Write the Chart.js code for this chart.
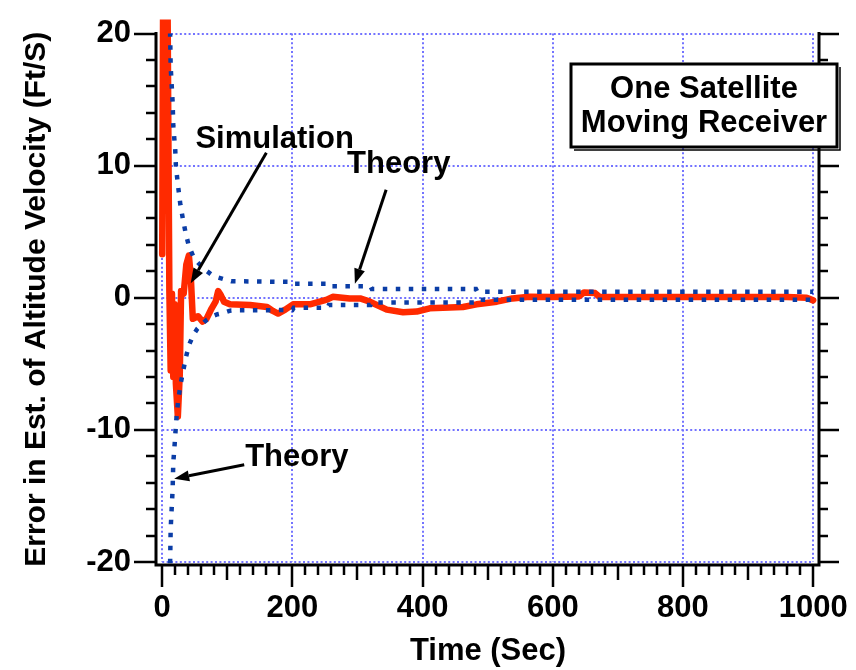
<!DOCTYPE html>
<html>
<head>
<meta charset="utf-8">
<script src="https://cdn.jsdelivr.net/npm/chart.js@4.4.1/dist/chart.umd.min.js"></script>
<style>
  html, body { margin: 0; padding: 0; background: #ffffff; }
  #wrap { width: 856px; height: 670px; }
</style>
</head>
<body>
<div id="wrap"><canvas id="c" width="856" height="670"></canvas></div>
<script>
// Simulated estimation error of altitude velocity (ft/s) versus time (s)
const simTime = [0, 1.5, 8, 11, 13, 15, 17, 19, 21, 24, 27, 29, 33, 37, 41, 44, 47, 55, 62, 68, 76,
  82, 86, 90, 95, 104, 135, 161, 170, 178, 189, 201, 227, 253, 262, 288, 304, 319, 345, 370, 391,
  411, 462, 483, 514, 538, 564, 600, 640, 648, 665, 672, 800, 960, 990, 1000];
const simError = [3.3, 24, 24, 0.5, -5.5, 0.3, -6, -0.5, -6.5, -9.0, -5.8, 0.5, 0.3, 2.5, 3.2, 1.5, -1.6, -1.4, -1.8, -1.6, -0.8,
  -0.3, 0.5, 0.2, -0.3, -0.5, -0.55, -0.7, -1.0, -1.2, -0.9, -0.5, -0.5, -0.15, 0.07, -0.05, -0.05, -0.3, -0.9, -1.1, -1.05,
  -0.8, -0.7, -0.5, -0.3, -0.05, 0.07, 0.05, 0.1, 0.4, 0.35, 0.05, 0.05, 0.05, 0.0, -0.2];

// Theoretical error bounds
const theoryTime = [10, 12, 13, 16, 17, 20, 21, 24, 28, 32, 36, 41, 48, 54, 61, 69, 77, 85, 94, 106,
  200, 202, 254, 256, 320, 322, 482, 484, 1000];
const theoryUpper = [26, 20.5, 17.5, 14.8, 13, 11.2, 10, 8.6, 7.0, 5.9, 4.9, 3.9, 3.1, 2.7, 2.35, 2.0, 1.7, 1.55, 1.42, 1.25,
  1.2, 1.06, 1.06, 0.86, 0.86, 0.66, 0.66, 0.46, 0.46];
const theoryLower = [-26, -20.5, -17.5, -14.5, -12.5, -10.5, -9.6, -8.0, -6.6, -5.6, -4.6, -3.6, -2.8, -2.35, -2.0, -1.65, -1.4, -1.25, -1.15, -0.96,
  -0.93, -0.76, -0.76, -0.55, -0.55, -0.36, -0.36, -0.16, -0.16];

// Axes
const xTickValues = [0, 200, 400, 600, 800, 1000];
const yTickValues = [-20, -10, 0, 10, 20];
const xTitle = 'Time (Sec)';
const yTitle = 'Error in Est. of Altitude Velocity (Ft/S)';
const boxLines = ['One Satellite', 'Moving Receiver'];

// Callouts, anchored in data units: label start, arrow tail and arrow tip
const callouts = [
  { text: 'Simulation', at: [51, 11.96], tail: [160, 10.98], tip: [43.8, 1.1] },
  { text: 'Theory', at: [284, 10.07], tail: [344, 8.18], tip: [296, 1.06] },
  { text: 'Theory', at: [127.4, -12.1], tail: [126, -12.64], tip: [18.4, -13.7] }
];

const FAMILY = '"Liberation Sans", Arial, Helvetica, sans-serif';
const boldFont = { family: FAMILY, size: 31, weight: 'bold' };
const titleFont = { family: FAMILY, size: 30, weight: 'bold' };
const canvasFont = 'bold 31px ' + FAMILY;

const toPoints = (xs, ys) => xs.map((x, i) => ({ x: x, y: ys[i] }));

function drawArrow(ctx, x1, y1, x2, y2) {
  const ang = Math.atan2(y2 - y1, x2 - x1);
  const L = 15, W = 5.5;
  const bx = x2 - L * Math.cos(ang), by = y2 - L * Math.sin(ang);
  ctx.beginPath();
  ctx.moveTo(x1, y1);
  ctx.lineTo(bx, by);
  ctx.stroke();
  ctx.beginPath();
  ctx.moveTo(x2, y2);
  ctx.lineTo(bx + W * Math.sin(ang), by - W * Math.cos(ang));
  ctx.lineTo(bx - W * Math.sin(ang), by + W * Math.cos(ang));
  ctx.closePath();
  ctx.fill();
}

const framePlugin = {
  id: 'frame',
  beforeDatasetsDraw(chart) {
    // dotted blue grid over the data box
    const { ctx, scales: { x, y } } = chart;
    ctx.save();
    ctx.strokeStyle = '#7373ff';
    ctx.lineWidth = 2;
    ctx.setLineDash([2, 2.4]);
    const yt = y.getPixelForValue(20), yb = y.getPixelForValue(-20);
    const xl = x.getPixelForValue(0), xr = x.getPixelForValue(1000);
    xTickValues.forEach(v => {
      const px = Math.round(x.getPixelForValue(v));
      ctx.beginPath(); ctx.moveTo(px, yt); ctx.lineTo(px, yb); ctx.stroke();
    });
    yTickValues.forEach(v => {
      const py = Math.round(y.getPixelForValue(v));
      ctx.beginPath(); ctx.moveTo(xl, py); ctx.lineTo(xr, py); ctx.stroke();
    });
    ctx.restore();
  },
  afterDatasetsDraw(chart) {
    // black axes with major and minor tick marks
    const { ctx, chartArea: a, scales: { x, y } } = chart;
    ctx.save();
    ctx.strokeStyle = '#000';
    ctx.lineWidth = 3;
    ctx.lineCap = 'butt';
    const left = a.left - 1, right = a.right, bottom = a.bottom;
    const top = y.getPixelForValue(20);
    ctx.beginPath();
    ctx.moveTo(left, top - 1.5); ctx.lineTo(left, bottom + 1.5);
    ctx.moveTo(left - 1.5, bottom); ctx.lineTo(right + 1.5, bottom);
    ctx.moveTo(right, top - 1.5); ctx.lineTo(right, bottom + 1.5);
    ctx.stroke();
    ctx.lineWidth = 2.5;
    ctx.beginPath();
    for (let v = -20; v <= 20; v += 2) {
      const py = Math.round(y.getPixelForValue(v));
      const major = v % 10 === 0;
      ctx.moveTo(left, py); ctx.lineTo(left - (major ? 22 : 10), py);
      ctx.moveTo(right, py); ctx.lineTo(right + (major ? 20 : 9), py);
    }
    for (let v = 0; v <= 1000; v += 20) {
      const px = Math.round(x.getPixelForValue(v));
      const len = v % 200 === 0 ? 22 : (v % 100 === 0 ? 15 : 10);
      ctx.moveTo(px, bottom); ctx.lineTo(px, bottom + len);
    }
    ctx.stroke();
    ctx.restore();
  },
  afterDraw(chart) {
    const { ctx, scales: { x, y } } = chart;
    ctx.save();
    // callout labels and arrows
    ctx.font = canvasFont;
    ctx.fillStyle = '#000';
    ctx.strokeStyle = '#000';
    ctx.lineWidth = 3;
    ctx.textBaseline = 'middle';
    ctx.textAlign = 'left';
    callouts.forEach(c => {
      ctx.fillText(c.text, x.getPixelForValue(c.at[0]), y.getPixelForValue(c.at[1]));
      drawArrow(ctx, x.getPixelForValue(c.tail[0]), y.getPixelForValue(c.tail[1]),
        x.getPixelForValue(c.tip[0]), y.getPixelForValue(c.tip[1]));
    });
    // framed title box
    const bx = 571, by = 64, bw = 266, bh = 83;
    ctx.fillStyle = '#fff';
    ctx.fillRect(bx, by, bw, bh);
    ctx.lineWidth = 3;
    ctx.strokeRect(bx, by, bw, bh);
    ctx.lineWidth = 1.5;
    ctx.beginPath();
    ctx.moveTo(bx + 3, by + bh + 3); ctx.lineTo(bx + bw + 3, by + bh + 3); ctx.lineTo(bx + bw + 3, by + 3);
    ctx.stroke();
    ctx.fillStyle = '#000';
    ctx.textAlign = 'center';
    ctx.fillText(boxLines[0], bx + bw / 2, by + 25);
    ctx.fillText(boxLines[1], bx + bw / 2, by + 59);
    ctx.restore();
  }
};

// Tick marks are drawn by the plugin; the library's tick length only spaces the labels
const hiddenTicks = (len) => ({
  display: true, drawOnChartArea: false, drawTicks: true,
  tickLength: len, tickColor: 'rgba(0,0,0,0)'
});

new Chart(document.getElementById('c'), {
  type: 'line',
  data: {
    datasets: [
      {
        label: 'Theory (upper)',
        data: toPoints(theoryTime, theoryUpper),
        borderColor: '#0b3da6',
        borderWidth: 4.5,
        borderDash: [4.5, 8.5],
        borderCapStyle: 'butt',
        pointRadius: 0,
        tension: 0,
        fill: false,
        order: 0
      },
      {
        label: 'Theory (lower)',
        data: toPoints(theoryTime, theoryLower),
        borderColor: '#0b3da6',
        borderWidth: 4.5,
        borderDash: [4.5, 8.5],
        borderCapStyle: 'butt',
        pointRadius: 0,
        tension: 0,
        fill: false,
        order: 0
      },
      {
        label: 'Simulation',
        data: toPoints(simTime, simError),
        borderColor: '#ff2a00',
        borderWidth: 6.5,
        borderJoinStyle: 'round',
        borderCapStyle: 'round',
        pointRadius: 0,
        tension: 0,
        fill: false,
        order: 1,
        clip: { left: 6, top: 14, right: 0, bottom: 0 }
      }
    ]
  },
  options: {
    responsive: false,
    animation: false,
    devicePixelRatio: 1,
    layout: { padding: { left: 0, right: 37, top: 33.5, bottom: 0 } },
    plugins: { legend: { display: false }, tooltip: { enabled: false } },
    scales: {
      x: {
        type: 'linear',
        min: -8,
        max: 1009,
        grid: hiddenTicks(25),
        border: { display: false },
        afterBuildTicks: s => { s.ticks = xTickValues.map(v => ({ value: v })); },
        afterFit: s => { s.height = 105; },
        ticks: { font: boldFont, color: '#000', padding: 0, maxRotation: 0, autoSkip: false,
          callback: v => String(v) },
        title: { display: true, text: xTitle, font: boldFont, color: '#000', padding: { top: 0, bottom: 0 } }
      },
      y: {
        type: 'linear',
        min: -20.23,
        max: 20,
        grid: hiddenTicks(26),
        border: { display: false },
        afterBuildTicks: s => { s.ticks = yTickValues.map(v => ({ value: v })); },
        afterFit: s => { s.width = 157; },
        ticks: { font: boldFont, color: '#000', padding: 0, autoSkip: false,
          callback: v => String(v) },
        title: { display: true, text: yTitle, font: titleFont, color: '#000', padding: { top: 19, bottom: 0 } }
      }
    }
  },
  plugins: [framePlugin]
});
</script>
</body>
</html>
